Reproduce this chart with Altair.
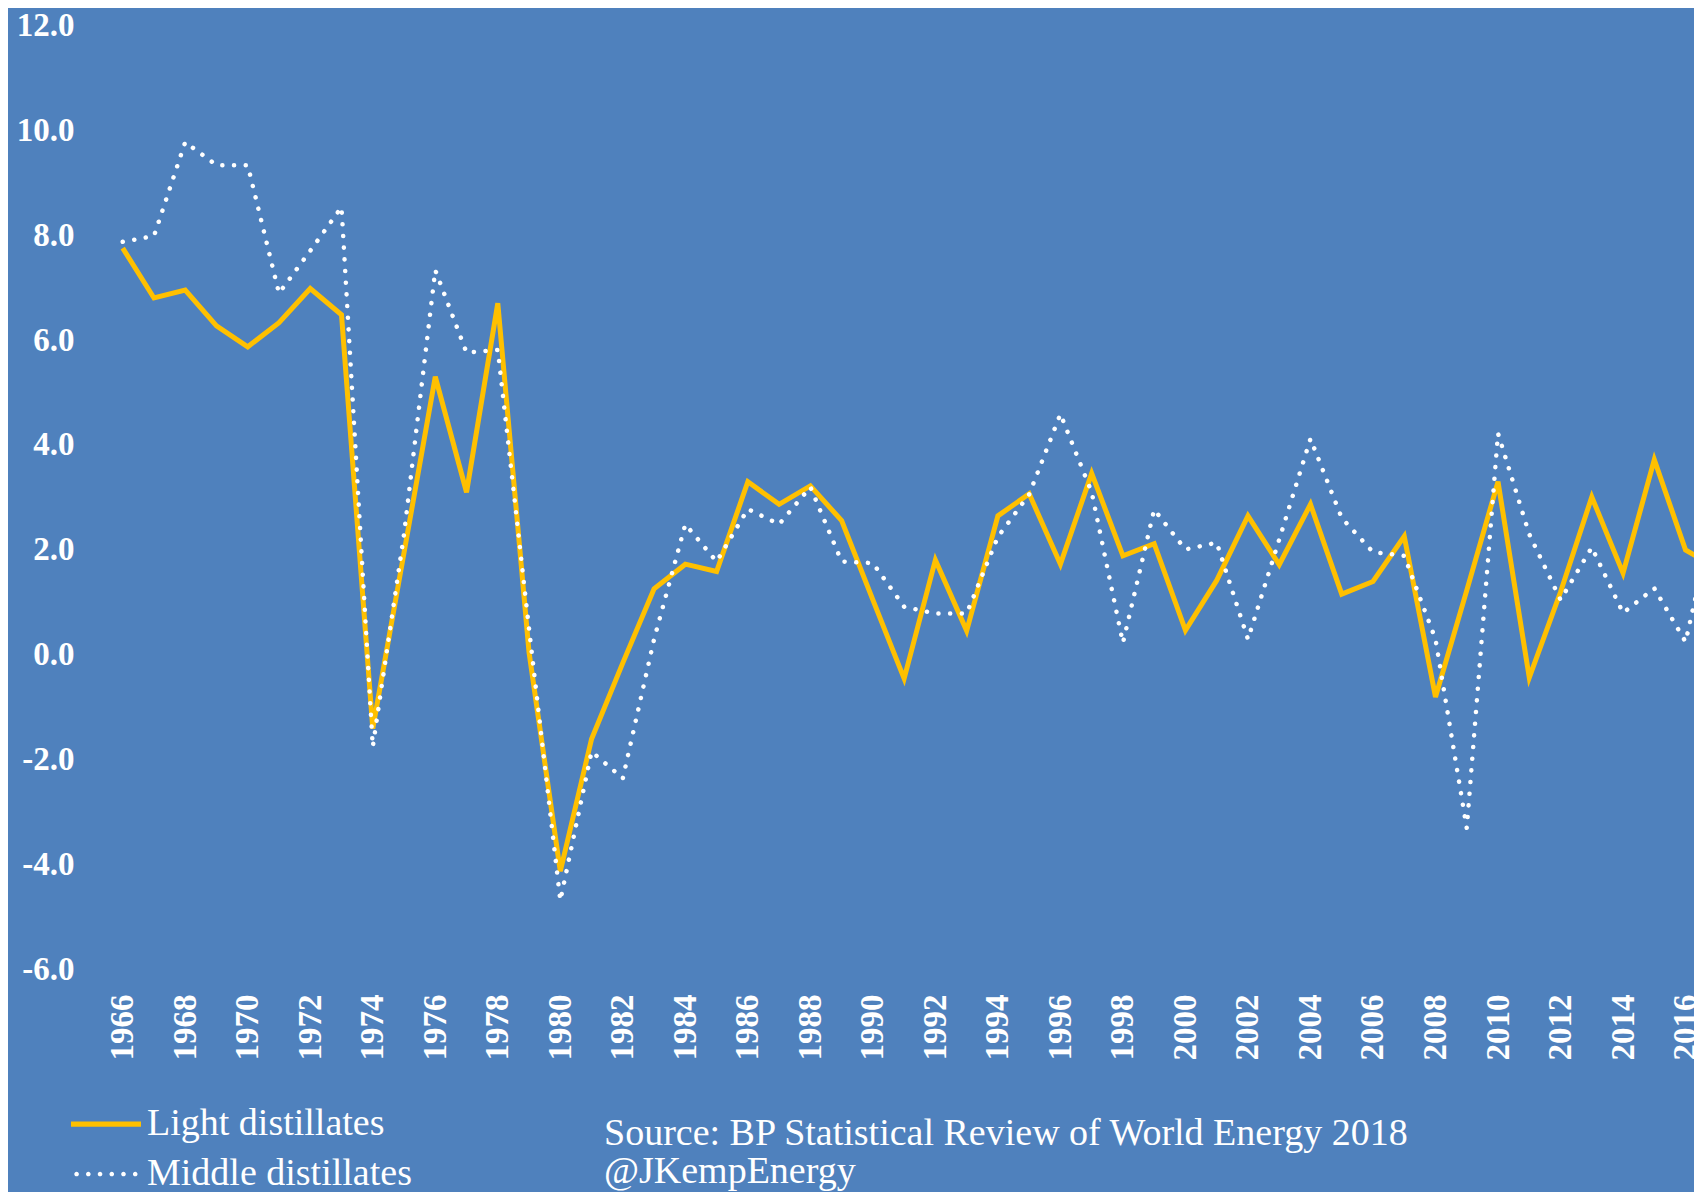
import altair as alt
import pandas as pd

# ---------------- data ----------------
years = list(range(1966, 2018))
light = [7.75, 6.80, 6.95, 6.27, 5.87, 6.33, 6.98, 6.48, -1.40, 1.95,
         5.30, 3.10, 6.70, 0.05, -4.12, -1.60, -0.15, 1.26, 1.73, 1.59,
         3.30, 2.87, 3.22, 2.56, 1.05, -0.45, 1.81, 0.46, 2.65, 3.07,
         1.73, 3.46, 1.89, 2.12, 0.47, 1.42, 2.65, 1.72, 2.87, 1.16,
         1.40, 2.26, -0.80, 1.23, 3.30, -0.43, 1.20, 3.01, 1.56, 3.72,
         2.00, 1.65]
middle = [7.87, 7.98, 9.77, 9.33, 9.33, 6.89, 7.70, 8.53, -1.75, 2.30,
          7.33, 5.76, 5.81, 0.50, -4.68, -1.84, -2.35, 0.30, 2.49, 1.78,
          2.78, 2.49, 3.20, 1.78, 1.75, 0.92, 0.79, 0.79, 2.25, 3.06,
          4.59, 3.10, 0.23, 2.77, 2.01, 2.14, 0.30, 2.20, 4.12, 2.61,
          1.96, 1.89, 0.30, -3.30, 4.22, 2.30, 1.05, 2.05, 0.80, 1.27,
          0.25, 2.90]
series_names = ["Light distillates", "Middle distillates"]
x_ticks = list(range(1966, 2017, 2))
y_ticks = [-6, -4, -2, 0, 2, 4, 6, 8, 10, 12]
source_lines = ["Source: BP Statistical Review of World Energy 2018", "@JKempEnergy"]

df = pd.DataFrame({
    "year": years + years,
    "value": light + middle,
    "series": [series_names[0]] * len(years) + [series_names[1]] * len(years),
})

# ---------------- style ----------------
BG = "#4F81BD"
YELLOW = "#FFC000"
WHITE = "#FFFFFF"
FONT = "Liberation Serif"
W, H = 1686, 1184

x_scale = alt.Scale(domain=[1962.33, 2016.27], nice=False, zero=False)
y_scale = alt.Scale(domain=[-10.229, 12.324], nice=False, zero=False)

x_axis = alt.Axis(values=x_ticks, format="d", labelAngle=-90, labelFont=FONT,
                  labelFontSize=33, labelFontWeight="bold", labelColor=WHITE,
                  ticks=False, domain=False, grid=False, labelPadding=0,
                  offset=-198, labelFlush=False, labelOverlap=False, title=None,
                  labelAlign="right", labelBaseline="middle")
y_axis = alt.Axis(values=y_ticks, labelExpr="replace(format(datum.value,'.1f'),'\u2212','-')",
                  labelFont=FONT, labelFontSize=33, labelFontWeight="bold",
                  labelColor=WHITE, ticks=False, domain=False, grid=False,
                  labelPadding=0, offset=-66, labelAlign="right",
                  labelBaseline="middle", labelFlush=False, labelOverlap=False,
                  title=None)

x_enc = alt.X("year:Q", scale=x_scale, axis=x_axis)
y_enc = alt.Y("value:Q", scale=y_scale, axis=y_axis)

base = alt.Chart(df)

light_line = base.transform_filter(alt.datum.series == series_names[0]).mark_line(
    color=YELLOW, strokeWidth=5, clip=True
).encode(x=x_enc, y=y_enc)

middle_line = base.transform_filter(alt.datum.series == series_names[1]).mark_line(
    color=WHITE, strokeWidth=4.5, strokeDash=[0.1, 11.6], strokeCap="round", clip=True
).encode(x=x_enc, y=y_enc)

bar_path = "M-1,-0.075L1,-0.075L1,0.075L-1,0.075Z"
dot_centers = [-0.84, -0.505, -0.17, 0.165, 0.5, 0.835]
r = 0.066
dots_path = " ".join(
    f"M{c - r:.3f},0A{r},{r} 0 1,0 {c + r:.3f},0A{r},{r} 0 1,0 {c - r:.3f},0Z"
    for c in dot_centers
)

legend = alt.Legend(title=None, orient="none", legendX=63, legendY=1091,
                    labelFont=FONT, labelFontSize=38, labelColor=WHITE,
                    labelLimit=0, symbolSize=4900, symbolStrokeWidth=0,
                    clipHeight=50, rowPadding=0, padding=0, labelOffset=6,
                    direction="vertical")

legend_layer = base.transform_filter("false").mark_point(
    filled=True, opacity=1, size=4900
).encode(
    x=x_enc,
    y=y_enc,
    color=alt.Color("series:N", scale=alt.Scale(domain=series_names, range=[YELLOW, WHITE]),
                    legend=legend),
    shape=alt.Shape("series:N", scale=alt.Scale(domain=series_names, range=[bar_path, dots_path]),
                    legend=legend),
)

chart = alt.layer(light_line, middle_line, legend_layer).properties(
    width=W, height=H,
    autosize=alt.AutoSizeParams(type="none"),
    padding=0,
    background=BG,
    title=alt.TitleParams(text=source_lines, orient="top", anchor="start", frame="group",
                          offset=0, dx=596, dy=1183, font=FONT, fontSize=38,
                          fontWeight="normal", color=WHITE, baseline="top",
                          lineHeight=38, align="left"),
).configure_view(stroke=None)

chart.save("out.html", embed_options={"renderer": "svg", "actions": False})
